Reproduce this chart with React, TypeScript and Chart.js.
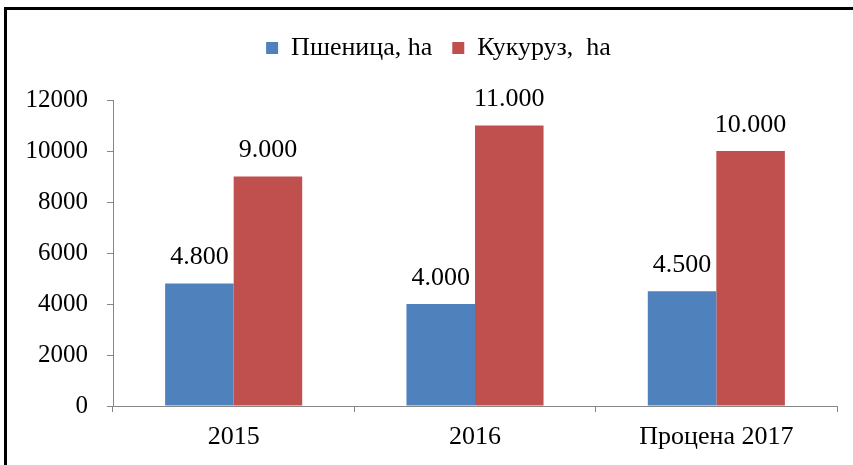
import React, { useEffect, useRef } from "react";
import { Chart, registerables } from "chart.js";

Chart.register(...registerables);

const categories = ["2015", "2016", "Процена 2017"];
const wheatValues = [4800, 4000, 4500];
const cornValues = [9000, 11000, 10000];
const seriesNames = ["Пшеница, ha", "Кукуруз,  ha"];
const yTicks = [0, 2000, 4000, 6000, 8000, 10000, 12000];

const SERIF = "'Liberation Serif', 'Times New Roman', serif";

function fmt(n: number): string {
  return n.toFixed(0).replace(/\B(?=(\d{3})+(?!\d))/g, ".");
}

const dataLabels = {
  id: "dataLabels",
  afterDatasetsDraw(chart: any) {
    const ctx = chart.ctx;
    ctx.save();
    ctx.font = `26px ${SERIF}`;
    ctx.fillStyle = "#000";
    ctx.textAlign = "center";
    ctx.textBaseline = "middle";
    chart.data.datasets.forEach((ds: any, i: number) => {
      const meta = chart.getDatasetMeta(i);
      meta.data.forEach((bar: any, j: number) => {
        ctx.fillText(fmt(ds.data[j]), bar.x, bar.y - 26);
      });
    });
    ctx.restore();
  },
};

const legendSpace = {
  id: "legendSpace",
  afterInit(chart: any) {
    const lg = chart.legend;
    if (!lg) return;
    const orig = lg.fit.bind(lg);
    lg.fit = function () {
      orig();
      this.height += 29;
    };
  },
  afterLayout(chart: any) {
    const lg = chart.legend;
    if (!lg) return;
    lg.left += 20;
    lg.right += 20;
  },
};

export default function App() {
  const ref = useRef<HTMLCanvasElement | null>(null);
  useEffect(() => {
    if (!ref.current) return;
    const chart = new Chart(ref.current, {
      type: "bar",
      data: {
        labels: categories,
        datasets: [
          {
            label: seriesNames[0],
            data: wheatValues,
            backgroundColor: "#4F81BD",
            categoryPercentage: 0.568,
            barPercentage: 1,
          },
          {
            label: seriesNames[1],
            data: cornValues,
            backgroundColor: "#C0504D",
            categoryPercentage: 0.568,
            barPercentage: 1,
          },
        ],
      },
      options: {
        responsive: false,
        animation: false,
        layout: { padding: { left: 0, right: 16, top: 15, bottom: 0 } },
        plugins: {
          legend: {
            display: true,
            position: "top",
            labels: {
              font: { family: SERIF, size: 26 },
              color: "#000",
              boxWidth: 12,
              boxHeight: 12,
              padding: 20,
            },
          },
          tooltip: { enabled: false },
        },
        scales: {
          x: {
            grid: {
              offset: true,
              drawOnChartArea: false,
              drawTicks: true,
              tickLength: 6,
              color: "#868686",
            },
            border: { color: "#868686" },
            ticks: {
              font: { family: SERIF, size: 26 },
              color: "#000",
              padding: 10,
            },
            afterFit(scale: any) {
              scale.height = 59;
            },
          },
          y: {
            min: 0,
            max: 12000,
            afterBuildTicks(scale: any) {
              scale.ticks = yTicks.map((v) => ({ value: v }));
            },
            grid: {
              drawOnChartArea: false,
              drawTicks: true,
              tickLength: 6,
              color: "#868686",
            },
            border: { color: "#868686" },
            ticks: {
              font: { family: SERIF, size: 25 },
              color: "#000",
              padding: 19,
              callback: (v: any) => String(v),
            },
            afterFit(scale: any) {
              scale.width = 113;
            },
          },
        },
      },
      plugins: [dataLabels, legendSpace],
    });
    return () => chart.destroy();
  }, []);

  return (
    <div
      style={{
        position: "fixed",
        left: 0,
        top: 0,
        width: 853,
        height: 465,
        overflow: "hidden",
        background: "#fff",
      }}
    >
      <div
        style={{
          position: "absolute",
          left: 4,
          top: 7,
          width: 900,
          height: 500,
          borderTop: "3px solid #000",
          borderLeft: "3px solid #000",
        }}
      />
      <canvas
        ref={ref}
        width={853}
        height={465}
        style={{ position: "absolute", left: 0, top: 0, width: 853, height: 465 }}
      />
    </div>
  );
}
